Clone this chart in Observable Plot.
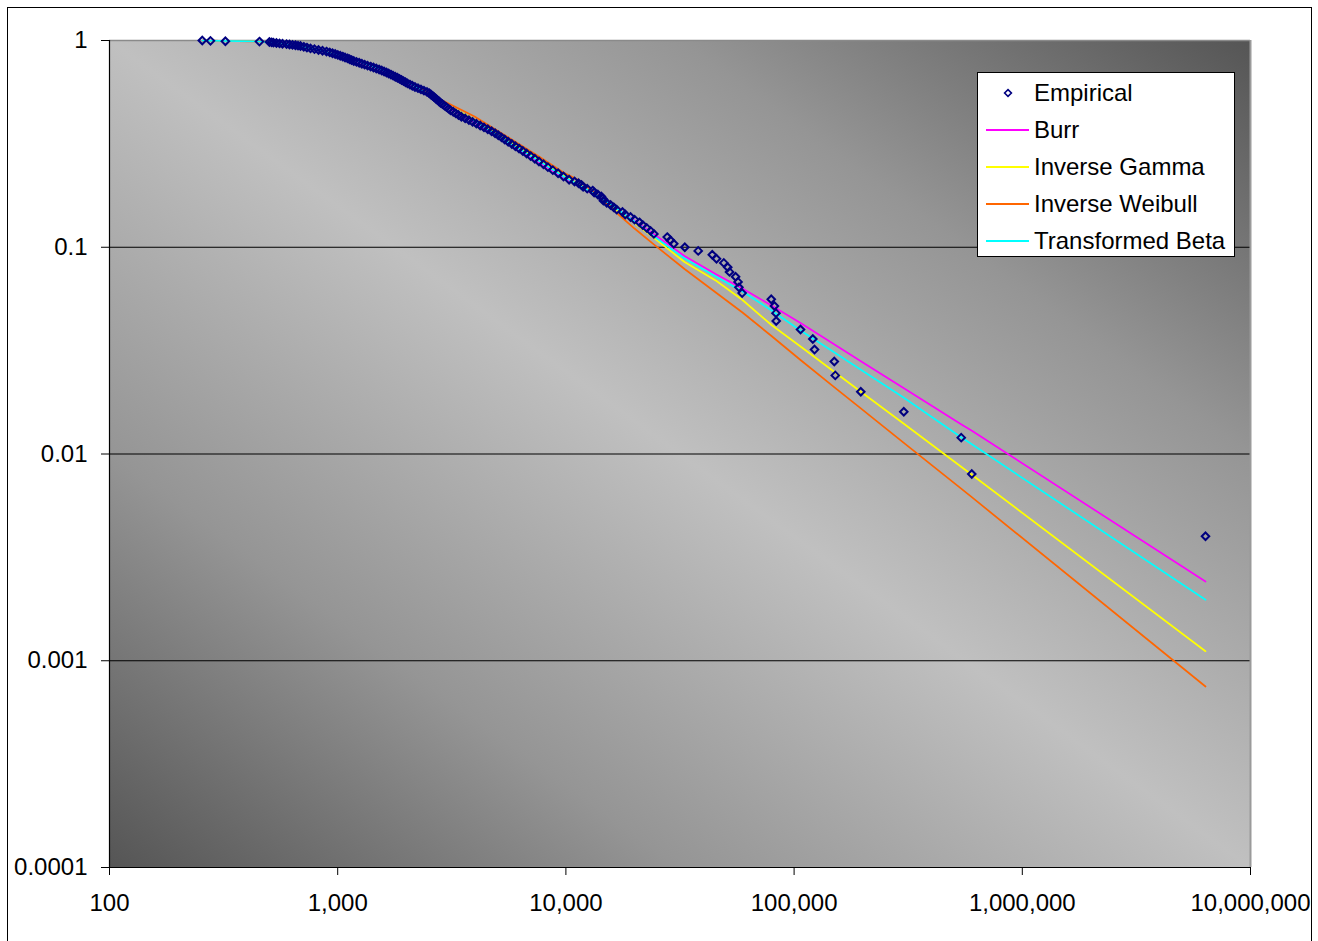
<!DOCTYPE html>
<html>
<head>
<meta charset="utf-8">
<script src="https://cdn.jsdelivr.net/npm/d3@7"></script>
<script src="https://cdn.jsdelivr.net/npm/@observablehq/plot@0.6"></script>
<style>
  html, body { margin: 0; padding: 0; background: #ffffff; }
  #wrap { position: relative; width: 1318px; height: 941px; overflow: hidden; font-family: "Liberation Sans", Arial, sans-serif; }
  #outer { position: absolute; left: 7px; top: 7px; width: 1305px; height: 960px; border: 1.5px solid #000; box-sizing: border-box; pointer-events: none; }
  #legend { position: absolute; left: 977px; top: 72px; width: 258px; height: 185px; background: #fff; border: 1px solid #000; box-sizing: border-box; }
  .lrow { position: absolute; left: 0; height: 30px; width: 100%; }
  .lrow .sw { position: absolute; left: 8px; width: 43px; top: 14px; height: 2px; }
  .lrow .tx { position: absolute; left: 56px; top: 0; font-size: 24px; line-height: 30px; color: #000; white-space: nowrap; }
</style>
</head>
<body>
<div id="wrap">
  <div id="chart"></div>
  <div id="outer"></div>
  <div id="legend"></div>
</div>
<script>
// ---- data ----
const xTicks = [100, 1000, 10000, 100000, 1000000, 10000000];
const xTickLabels = ["100", "1,000", "10,000", "100,000", "1,000,000", "10,000,000"];
const yTicks = [0.0001, 0.001, 0.01, 0.1, 1];
const yTickLabels = ["0.0001", "0.001", "0.01", "0.1", "1"];
const gridY = [0.1, 0.01, 0.001];

const seriesNames = ["Empirical", "Burr", "Inverse Gamma", "Inverse Weibull", "Transformed Beta"];
const seriesColors = ["#000080", "#FF00FF", "#FFFF00", "#FF6600", "#00FFFF"];

// Empirical survival points (loss size, proportion exceeding)
const empX = [255, 277, 322, 454, 502, 513, 523, 539, 556, 573, 597, 615, 634, 653, 670,
  687, 710, 733, 760, 791, 824, 858, 893, 923, 949, 975, 1001, 1026, 1052, 1077, 1104, 1127, 1149, 1176, 1209,
  1242, 1276, 1313, 1352, 1394, 1435, 1476, 1519, 1559, 1597, 1636, 1673, 1711, 1749, 1788, 1828, 1866, 1904,
  1943, 1982, 2023, 2072, 2123, 2181, 2248, 2317, 2388, 2462, 2520, 2561, 2603, 2645, 2688, 2732, 2776, 2822,
  2879, 2938, 2998, 3059, 3121, 3208, 3293, 3384, 3484, 3620, 3758, 3901, 4053, 4212, 4376, 4547, 4725, 4895,
  5056, 5222, 5393, 5587, 5794, 6008, 6232, 6475, 6728, 7004, 7307, 7622, 7976, 8338, 8761, 9244, 9760, 10330,
  10910, 11360, 11700, 11900, 12400, 13100, 13300, 13800, 14300, 14500, 14600, 15100, 15700, 16200, 16700,
  17700, 18200, 19200, 20000, 21000, 21700, 22600, 23500, 24300, 27800, 28700, 29700, 33200, 38000, 43800,
  45700, 49200, 51200, 52100, 55400, 56800, 57300, 59200, 79400, 82000, 83300, 83500, 106700, 120800, 122900,
  150000, 151500, 196000, 302500, 540000, 600600, 6350000];
const empY = [1.0, 0.996, 0.992, 0.988, 0.984, 0.98, 0.976, 0.972, 0.968, 0.964, 0.96, 0.956, 0.952, 0.948, 0.944,
  0.94, 0.932, 0.924, 0.916, 0.908, 0.9, 0.892, 0.884, 0.876, 0.868, 0.86, 0.852, 0.844, 0.836, 0.828, 0.82, 0.812, 0.804, 0.796, 0.788,
  0.78, 0.772, 0.764, 0.756, 0.748, 0.74, 0.732, 0.724, 0.716, 0.708, 0.7, 0.692, 0.684, 0.676, 0.668, 0.66, 0.652, 0.644,
  0.636, 0.628, 0.62, 0.612, 0.604, 0.596, 0.588, 0.58, 0.572, 0.564, 0.556, 0.548, 0.54, 0.532, 0.524, 0.516, 0.508, 0.5,
  0.492, 0.484, 0.476, 0.468, 0.46, 0.452, 0.444, 0.436, 0.428, 0.42, 0.412, 0.404, 0.396, 0.388, 0.38, 0.372, 0.364, 0.356,
  0.348, 0.34, 0.332, 0.324, 0.316, 0.308, 0.3, 0.292, 0.284, 0.276, 0.268, 0.26, 0.252, 0.244, 0.236, 0.228, 0.22, 0.212,
  0.208, 0.204, 0.2, 0.196, 0.192, 0.188, 0.184, 0.18, 0.176, 0.172, 0.168, 0.164, 0.16, 0.156, 0.152,
  0.148, 0.144, 0.14, 0.136, 0.132, 0.128, 0.124, 0.12, 0.116, 0.112, 0.108, 0.104, 0.1, 0.096, 0.092,
  0.088, 0.084, 0.08, 0.076, 0.072, 0.068, 0.064, 0.06, 0.056, 0.052, 0.048, 0.044, 0.04, 0.036, 0.032,
  0.028, 0.024, 0.02, 0.016, 0.012, 0.008, 0.004];

// Fitted survival curves, read at these loss sizes
const fitX = [255, 454, 687, 1029, 1540, 2149, 2822, 3977, 5604, 7622, 9760, 11703, 15689, 19983, 24200,
  33100, 45700, 59400, 79600, 106700, 150300, 195400, 301600, 541400, 598900, 6350000];
const burrY = [0.999, 0.9889, 0.9406, 0.8415, 0.7242, 0.5990, 0.4986, 0.4012, 0.3141, 0.2570, 0.2175, 0.1945,
  0.1610, 0.1347, 0.1159, 0.09071, 0.07383, 0.06316, 0.05227, 0.04301, 0.03386, 0.02817, 0.02086, 0.01389, 0.01299, 0.002416];
const invGammaY = [0.999, 0.9889, 0.9406, 0.8462, 0.7282, 0.6057, 0.5070, 0.4148, 0.3283, 0.2657, 0.2223, 0.1978,
  0.1592, 0.1310, 0.1115, 0.08485, 0.06867, 0.05557, 0.04206, 0.03311, 0.02492, 0.02006, 0.01405, 0.008652, 0.007960, 0.001112];
const invWeibullY = [0.999, 0.9889, 0.9406, 0.8462, 0.7323, 0.6125, 0.5184, 0.4289, 0.3395, 0.2748, 0.2299, 0.2080,
  0.1557, 0.1232, 0.1036, 0.07847, 0.06008, 0.04834, 0.03722, 0.02849, 0.02102, 0.01667, 0.01136, 0.006780, 0.006202, 0.0007506];
const transBetaY = [0.999, 0.9889, 0.9406, 0.8462, 0.7282, 0.6057, 0.5042, 0.4079, 0.3211, 0.2613, 0.2199, 0.1967,
  0.1619, 0.1332, 0.1133, 0.08822, 0.07180, 0.06109, 0.04943, 0.03957, 0.03097, 0.02563, 0.01876, 0.01202, 0.01117, 0.001971];

// ---- build tables ----
const empirical = empX.map((x, i) => ({x, y: empY[i]}));
const fits = [burrY, invGammaY, invWeibullY, transBetaY].map((ys, k) => ({
  name: seriesNames[k + 1], color: seriesColors[k + 1],
  data: fitX.map((x, i) => ({x, y: ys[i]}))
}));

const font = '"Liberation Sans", Arial, sans-serif';
const chart = Plot.plot({
  width: 1318,
  height: 941,
  marginLeft: 109,
  marginRight: 68,
  marginTop: 40,
  marginBottom: 74,
  style: {background: "transparent", fontFamily: font, fontSize: "24px", color: "#000"},
  x: {type: "log", domain: [100, 10000000]},
  y: {type: "log", domain: [0.0001, 1]},
  marks: [
    Plot.frame({fill: "#bbbbbb", stroke: null}),
    Plot.ruleY(gridY, {stroke: "#000", strokeWidth: 1}),
    Plot.ruleY([1], {stroke: "#8a8a8a", strokeWidth: 1.5}),
    Plot.ruleX([10000000], {stroke: "#9a9a9a", strokeWidth: 2}),
    ...fits.map(f => Plot.line(f.data, {x: "x", y: "y", stroke: f.color, strokeWidth: 1.7})),
    Plot.dot(empirical, {x: "x", y: "y", symbol: "diamond2", r: 3.4, stroke: "#000080", strokeWidth: 2, fill: "none"}),
    Plot.ruleX([100], {stroke: "#000", strokeWidth: 1.2}),
    Plot.ruleY([0.0001], {stroke: "#000", strokeWidth: 1.2}),
    Plot.axisX({ticks: xTicks, tickFormat: d => xTickLabels[xTicks.indexOf(d)], tickSize: 8, tickPadding: 18, label: null, fontSize: 24}),
    Plot.axisY({ticks: yTicks, tickFormat: d => yTickLabels[yTicks.indexOf(d)], tickSize: 8, tickPadding: 14, label: null, fontSize: 24})
  ]
});

// diagonal gradient background for the plot area
const defs = document.createElementNS("http://www.w3.org/2000/svg", "defs");
defs.innerHTML = '<linearGradient id="bggrad" x1="0" y1="1" x2="1" y2="0">' +
  '<stop offset="0" stop-color="#555555"/>' +
  '<stop offset="0.25" stop-color="#959595"/>' +
  '<stop offset="0.5" stop-color="#c0c0c0"/>' +
  '<stop offset="0.75" stop-color="#959595"/>' +
  '<stop offset="1" stop-color="#555555"/>' +
  '</linearGradient>';
chart.insertBefore(defs, chart.firstChild);
const fr = chart.querySelector('[aria-label="frame"]');
if (fr) {
  fr.setAttribute("fill", "url(#bggrad)");
  (fr.tagName.toLowerCase() === "rect" ? [fr] : fr.querySelectorAll("rect")).forEach(r => r.setAttribute("fill", "url(#bggrad)"));
}
document.getElementById("chart").appendChild(chart);

// legend
const legend = document.getElementById("legend");
seriesNames.forEach((name, i) => {
  const row = document.createElement("div");
  row.className = "lrow";
  row.style.top = (5 + i * 37) + "px";
  let sw;
  if (i === 0) {
    sw = document.createElementNS("http://www.w3.org/2000/svg", "svg");
    sw.setAttribute("width", "12"); sw.setAttribute("height", "12");
    sw.style.position = "absolute"; sw.style.left = "24px"; sw.style.top = "9px";
    sw.innerHTML = '<path d="M6,2.6L9.4,6L6,9.4L2.6,6Z" fill="none" stroke="#000080" stroke-width="1.6"/>';
  } else {
    sw = document.createElement("div");
    sw.className = "sw";
    sw.style.background = seriesColors[i];
  }
  row.appendChild(sw);
  const tx = document.createElement("div");
  tx.className = "tx";
  tx.textContent = name;
  row.appendChild(tx);
  legend.appendChild(row);
});
</script>
</body>
</html>
